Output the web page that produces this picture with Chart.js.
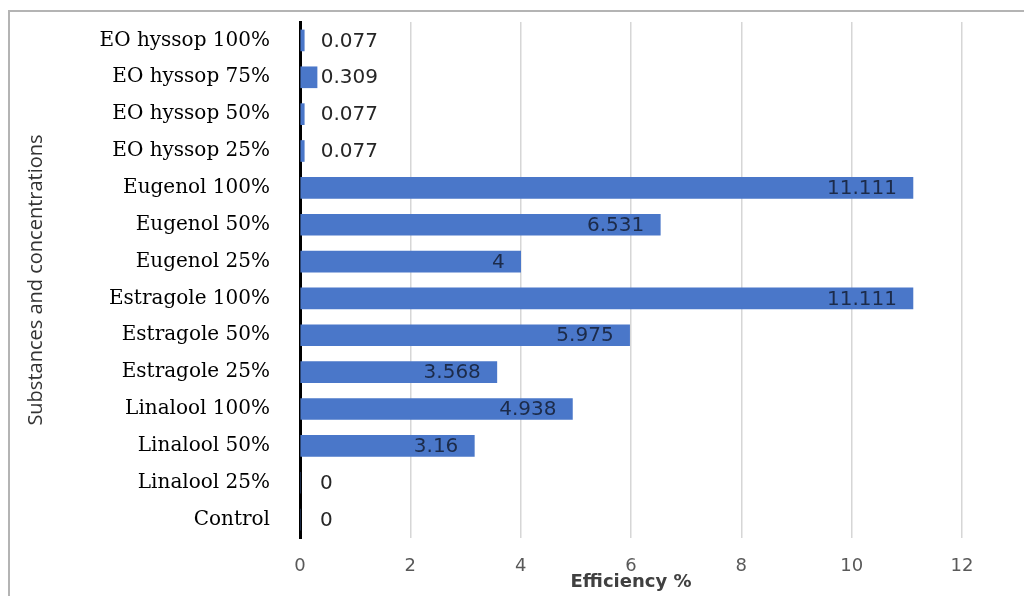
<!DOCTYPE html>
<html>
<head>
<meta charset="utf-8">
<script src="https://cdn.jsdelivr.net/npm/chart.js@4.4.1/dist/chart.umd.min.js"></script>
<style>
  html, body { margin: 0; padding: 0; background: #fff; }
  #wrap { position: relative; width: 1024px; height: 596px; overflow: hidden; }
  #frame { position: absolute; left: 8px; top: 10px; width: 1100px; height: 700px;
           border-top: 2px solid #b4b4b4; border-left: 2px solid #b4b4b4; }
  canvas { position: absolute; left: 0; top: 0; }
</style>
</head>
<body>
<div id="wrap">
  <div id="frame"></div>
  <canvas id="c" width="1024" height="596"></canvas>
</div>
<script>
const categories = [
  "EO hyssop 100%", "EO hyssop 75%", "EO hyssop 50%", "EO hyssop 25%",
  "Eugenol 100%", "Eugenol 50%", "Eugenol 25%",
  "Estragole 100%", "Estragole 50%", "Estragole 25%",
  "Linalool 100%", "Linalool 50%", "Linalool 25%", "Control"
];
const efficiency = [0.077, 0.309, 0.077, 0.077, 11.111, 6.531, 4, 11.111, 5.975, 3.568, 4.938, 3.16, 0, 0];
const xTicks = [0, 2, 4, 6, 8, 10, 12];
const xTitle = "Efficiency %";
const yTitle = "Substances and concentrations";

const labelPlugin = {
  id: 'barLabels',
  afterDatasetsDraw(chart) {
    const ctx = chart.ctx;
    const meta = chart.getDatasetMeta(0);
    ctx.save();
    ctx.font = '20px "DejaVu Sans", sans-serif';
    ctx.textBaseline = 'middle';
    meta.data.forEach((el, i) => {
      const txt = String(efficiency[i]);
      const w = ctx.measureText(txt).width;
      const base = el.base, end = el.x;
      if (end - base > w + 24) {
        ctx.textAlign = 'right';
        ctx.fillStyle = '#1c2b4a';
        ctx.fillText(txt, end - 16, el.y + 1);
      } else {
        ctx.textAlign = 'left';
        ctx.fillStyle = '#262626';
        ctx.fillText(txt, Math.max(end + 3, base + 20), el.y + 1);
      }
    });
    ctx.restore();
  }
};

new Chart(document.getElementById('c'), {
  type: 'bar',
  data: {
    labels: categories,
    datasets: [{
      data: efficiency,
      backgroundColor: '#4a77c9',
      borderWidth: 0,
      barThickness: 21
    }]
  },
  plugins: [labelPlugin],
  options: {
    indexAxis: 'y',
    responsive: false,
    animation: false,
    devicePixelRatio: 1,
    layout: { padding: { left: 24, right: 62, top: 22, bottom: 0 } },
    plugins: { legend: { display: false }, tooltip: { enabled: false } },
    scales: {
      x: {
        min: 0, max: 12,
        afterBuildTicks: (s) => { s.ticks = xTicks.map(v => ({ value: v })); },
        afterFit: (s) => { s.height = 58; s.paddingLeft = 0; s.paddingRight = 0; },
        grid: { color: '#d6d6d6', lineWidth: 1.5, drawTicks: false },
        border: { display: false },
        ticks: { padding: 18, color: '#595959', font: { family: '"DejaVu Sans", sans-serif', size: 18 } },
        title: { display: true, text: xTitle, color: '#404040',
                 font: { family: '"DejaVu Sans", sans-serif', size: 18, weight: 'bold' },
                 padding: { top: 0, bottom: 3 } }
      },
      y: {
        afterFit: (s) => { s.width = 276; s.paddingTop = 0; s.paddingBottom = 0; },
        grid: { display: false, drawTicks: false },
        border: { display: true, color: '#000', width: 3 },
        ticks: { padding: 30, color: '#000', font: { family: '"DejaVu Serif", serif', size: 20 } },
        title: { display: true, text: yTitle, color: '#333',
                 font: { family: '"Open Sans", sans-serif', size: 20 },
                 padding: { top: 0, bottom: 0 } }
      }
    }
  }
});
</script>
</body>
</html>
